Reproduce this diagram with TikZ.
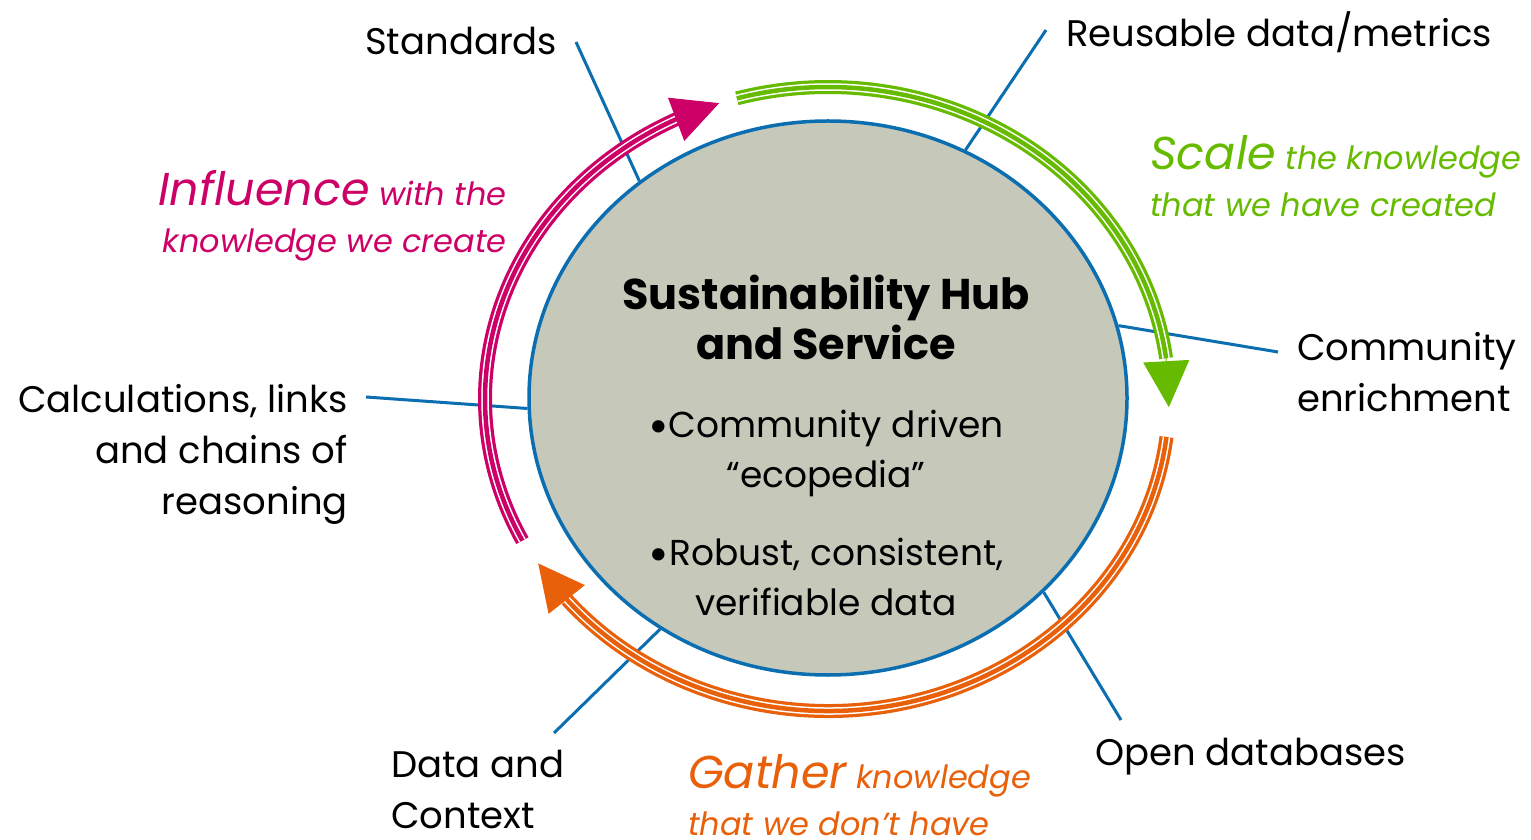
\documentclass[tikz,border=0pt]{standalone}
\usepackage{fontspec}
\setmainfont{Poppins}
\usetikzlibrary{arrows.meta,shapes.geometric}

\definecolor{hubblue}{HTML}{0A6EB0}
\definecolor{hubgray}{HTML}{C6C8BA}
\definecolor{infpink}{HTML}{CC0066}
\definecolor{scagreen}{HTML}{66BB00}
\definecolor{gatorange}{HTML}{E8600A}

\newcommand{\titlefont}{\bfseries\fontsize{43}{50}\selectfont}
\newcommand{\bigword}{\fontsize{46}{47}\selectfont}
\newcommand{\dotmark}{\raisebox{-6pt}{\fontsize{50}{50}\selectfont•}}

\begin{document}
\begin{tikzpicture}[
        x=1pt, y=1pt,
        hub/.style={ellipse, draw=hubblue, line width=3.5pt, fill=hubgray,
            minimum width=598pt, minimum height=554pt, inner sep=0pt},
        side/.style={inner sep=0pt, font=\fontsize{37}{51}\selectfont},
        lead/.style={draw=hubblue, line width=3pt},
        motto/.style={inner sep=0pt, text=#1, font=\fontsize{32}{47}\selectfont\itshape},
        flow/.style={draw=white, line width=7.5pt,
            preaction={draw=#1, line width=14pt},
            postaction={draw=#1, line width=4.5pt}},
        head/.style={draw=#1, line width=1pt, -{Triangle[length=46pt, width=46pt]}},
    ]
    \useasboundingbox (0,0) rectangle (1531,839);

    % the hub
    \node[hub] (hub) at (828,441) {};
    \node[align=center, font=\fontsize{36}{50}\selectfont] (hubtext) at (826,394)
        {\titlefont Sustainability Hub\\\titlefont and Service\\[28pt]
         \dotmark Community driven\\“ecopedia”\\[28pt]
         \dotmark Robust, consistent,\\verifiable data};

    % labels round the hub
    \node[side, anchor=base west] (std) at (365,784) {Standards};
    \node[side, anchor=base west] (reuse) at (1066,792) {Reusable data/metrics};
    \node[side, anchor=west, align=left] (comm) at (1297,467) {Community\\enrichment};
    \node[side, anchor=east, align=right] (calc) at (348,385) {Calculations, links\\and chains of\\reasoning};
    \node[side, anchor=west, align=left] (data) at (391,50) {Data and\\Context};
    \node[side, anchor=base west] (open) at (1095,74) {Open databases};

    \coordinate (std-end) at (576,797);
    \coordinate (reuse-end) at (1046,809);
    \coordinate (comm-end) at (1278,487);
    \coordinate (calc-end) at (366,442);
    \coordinate (data-end) at (554,106);
    \coordinate (open-end) at (1121,119);

    \draw[lead] (std-end) -- (hub.131);
    \draw[lead] (reuse-end) -- (hub.61.6);
    \draw[lead] (comm-end) -- (hub.14.2);
    \draw[lead] (calc-end) -- (hub.182.3);
    \draw[lead] (data-end) -- (hub.234);
    \draw[lead] (open-end) -- (hub.-42.2);

    % the three flows
    \coordinate (C) at (828,440);
    \draw[flow=infpink] (C) ++(207:343 and 312) arc[start angle=207, end angle=116, x radius=343, y radius=312];
    \draw[flow=scagreen] (C) ++(105.5:341 and 312) arc[start angle=105.5, end angle=7.5, x radius=341, y radius=312];
    \draw[flow=gatorange] (C) ++(-7:341 and 312) arc[start angle=-7, end angle=-140, x radius=341, y radius=312];

    \path (C) ++(116.5:343 and 312) coordinate (inf-base)
          (C) ++(108.5:343 and 312) coordinate (inf-tip)
          (C) ++(7.5:341 and 312) coordinate (sca-base)
          (C) ++(-1.5:341 and 312) coordinate (sca-tip)
          (C) ++(-140:341 and 312) coordinate (gat-base)
          (C) ++(-148.2:341 and 312) coordinate (gat-tip);
    \draw[head=infpink] (inf-base) -- (inf-tip);
    \draw[head=scagreen] (sca-base) -- (sca-tip);
    \draw[head=gatorange] (gat-base) -- (gat-tip);

    \node[motto=infpink, anchor=east, align=right] (inf) at (507,623)
        {{\bigword Influence} with the\\knowledge we create};
    \node[motto=scagreen, anchor=west, align=left] (sca) at (1150,663)
        {{\bigword Scale} the knowledge\\that we have created};
    \node[motto=gatorange, anchor=west, align=left] (gat) at (688,44)
        {{\bigword Gather} knowledge\\that we don’t have};
\end{tikzpicture}
\end{document}
